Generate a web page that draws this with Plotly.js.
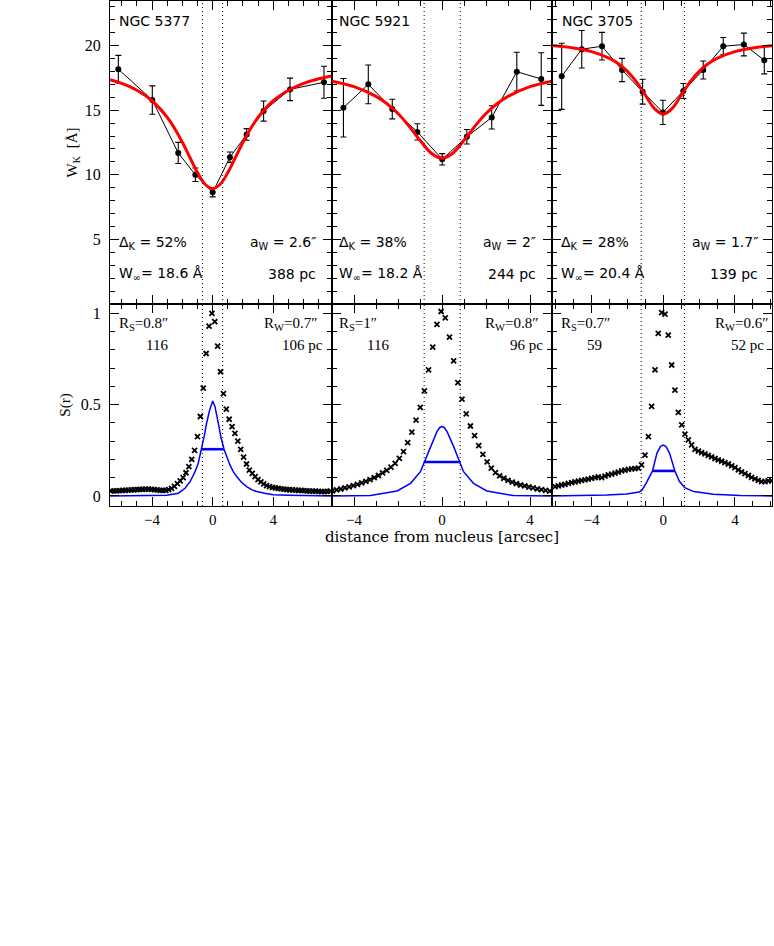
<!DOCTYPE html>
<html>
<head>
<meta charset="utf-8">
<script src="https://cdn.plot.ly/plotly-3.0.1.min.js"></script>
<style>html,body{margin:0;padding:0;background:#fff;}#chart{width:774px;height:946px;}</style>
</head>
<body>
<div id="chart"></div>
<script>
// ---------- data ----------
const galaxies = ['NGC 5377', 'NGC 5921', 'NGC 3705'];
const deltaK = ['52%', '38%', '28%'];
const wInf = ['18.6', '18.2', '20.4'];
const aW = ['2.6″', '2″', '1.7″'];
const aWpc = ['388 pc', '244 pc', '139 pc'];
const rS = ['0.8″', '1″', '0.7″'];
const rSpc = ['116', '116', '59'];
const rW = ['0.7″', '0.8″', '0.6″'];
const rWpc = ['106 pc', '96 pc', '52 pc'];

const xRanges = [[-6.77, 7.87], [-5, 5], [-6.21, 6.07]];
const xTickVals = [-4, 0, 4];
const wTickVals = [5, 10, 15, 20];
const sTickVals = [0, 0.5, 1];
const dotX = [[-0.68, 0.66], [-0.81, 0.83], [-1.23, 1.18]];

// W_K profiles (points with error bars)
const wX1 = [-6.22, -3.98, -2.27, -1.14, 0.0, 1.14, 2.24, 3.36, 5.1, 7.34];
const wY1 = [18.17, 15.78, 11.69, 10.0, 8.64, 11.36, 13.12, 14.93, 16.61, 17.16];
const wE1 = [1.07, 1.1, 0.82, 0.52, 0.35, 0.4, 0.45, 0.78, 0.87, 1.24];
const wX2 = [-4.48, -3.35, -2.26, -1.12, 0.01, 1.13, 2.26, 3.4, 4.51];
const wY2 = [15.19, 17.0, 15.09, 13.32, 11.2, 12.94, 14.44, 17.98, 17.41];
const wE2 = [2.26, 1.5, 0.76, 0.63, 0.44, 0.56, 0.9, 1.5, 2.04];
const wX3 = [-5.67, -4.55, -3.42, -2.30, -1.15, -0.02, 1.12, 2.23, 3.35, 4.5, 5.64];
const wY3 = [17.62, 19.72, 19.95, 18.11, 16.43, 14.83, 16.48, 18.11, 19.95, 20.08, 18.87];
const wE3 = [2.56, 1.45, 1.07, 0.9, 0.96, 0.94, 0.58, 0.7, 0.67, 0.88, 1.06];

// red fitted curves
const fitX1 = [-6.77, -6, -5, -4, -3, -2.5, -2, -1.5, -1, -0.5, 0, 0.5, 1, 1.5, 2, 2.5, 3, 4, 5, 6, 7, 7.87];
const fitY1 = [17.36, 17.07, 16.54, 15.73, 14.45, 13.57, 12.52, 11.34, 10.17, 9.27, 8.93, 9.27, 10.17, 11.34, 12.52, 13.57, 14.45, 15.73, 16.54, 17.07, 17.43, 17.65];
const fitX2 = [-5, -4, -3, -2.5, -2, -1.5, -1, -0.5, 0, 0.5, 1, 1.5, 2, 2.5, 3, 4, 5];
const fitY2 = [17.25, 16.82, 16.07, 15.50, 14.74, 13.77, 12.67, 11.69, 11.28, 11.69, 12.67, 13.77, 14.74, 15.50, 16.07, 16.82, 17.25];
const fitX3 = [-6.21, -5, -4, -3, -2.5, -2, -1.5, -1, -0.5, 0, 0.5, 1, 1.5, 2, 2.5, 3, 4, 5, 6.07];
const fitY3 = [20.0, 19.81, 19.53, 19.01, 18.59, 18.0, 17.19, 16.16, 15.14, 14.69, 15.14, 16.16, 17.19, 18.0, 18.59, 19.01, 19.53, 19.81, 19.99];

// S(r) light profiles (crosses)
const sX1 = [-6.70,-6.51,-6.32,-6.13,-5.94,-5.75,-5.56,-5.37,-5.18,-4.99,-4.80,-4.61,-4.42,-4.23,-4.04,-3.85,-3.66,-3.47,-3.28,-3.09,-2.90,-2.71,-2.52,-2.33,-2.14,-1.95,-1.76,-1.57,-1.38,-1.19,-1.00,-0.81,-0.62,-0.43,-0.24,-0.05,
  0.14,0.33,0.52,0.71,0.90,1.09,1.28,1.47,1.66,1.85,2.04,2.23,2.42,2.61,2.80,2.99,3.18,3.37,3.56,3.75,3.94,4.13,4.32,4.51,4.70,4.89,5.08,5.27,5.46,5.65,5.84,6.03,6.22,6.41,6.60,6.79,6.98,7.17,7.36,7.55,7.74];
const sY1 = [.027,.028,.028,.029,.030,.031,.032,.033,.034,.035,.036,.036,.037,.037,.036,.035,.033,.031,.030,.031,.035,.042,.053,.068,.083,.10,.127,.16,.20,.25,.325,.435,.59,.78,.93,1.0,
  .955,.82,.68,.56,.475,.42,.38,.343,.30,.255,.213,.175,.142,.124,.106,.09,.077,.066,.057,.051,.047,.044,.041,.039,.037,.035,.034,.033,.032,.031,.030,.029,.028,.027,.027,.026,.025,.024,.024,.025,.026];
const sX2 = [-4.98,-4.79,-4.60,-4.41,-4.22,-4.03,-3.84,-3.65,-3.46,-3.27,-3.08,-2.89,-2.70,-2.51,-2.32,-2.13,-1.94,-1.75,-1.56,-1.37,-1.18,-0.99,-0.80,-0.61,-0.42,-0.23,-0.04,
  0.15,0.34,0.53,0.72,0.91,1.10,1.29,1.48,1.67,1.86,2.05,2.24,2.43,2.62,2.81,3.00,3.19,3.38,3.57,3.76,3.95,4.14,4.33,4.52,4.71,4.90];
const sY2 = [.028,.033,.038,.044,.050,.057,.064,.072,.080,.090,.100,.112,.126,.140,.158,.178,.206,.243,.292,.350,.415,.485,.575,.690,.815,.940,1.01,
  .975,.87,.74,.62,.53,.45,.383,.33,.276,.228,.186,.152,.128,.11,.097,.085,.076,.068,.060,.055,.049,.044,.039,.035,.031,.027];
const sX3 = [-6.04,-5.86,-5.67,-5.49,-5.30,-5.11,-4.93,-4.74,-4.56,-4.37,-4.19,-4.00,-3.81,-3.63,-3.44,-3.25,-3.07,-2.88,-2.69,-2.51,-2.32,-2.14,-1.95,-1.76,-1.58,-1.39,-1.21,-1.02,-0.83,-0.65,-0.46,-0.28,-0.09,
  0.10,0.28,0.47,0.65,0.84,1.03,1.21,1.40,1.58,1.77,1.96,2.14,2.33,2.51,2.70,2.89,3.07,3.26,3.44,3.63,3.82,4.00,4.19,4.37,4.56,4.75,4.93,5.12,5.30,5.49,5.68,5.86,6.05];
const sY3 = [.051,.055,.060,.064,.069,.073,.077,.081,.085,.088,.092,.096,.100,.104,.100,.108,.115,.120,.125,.130,.137,.142,.145,.148,.150,.152,.170,.224,.325,.490,.690,.890,1.004,
  .996,.88,.717,.58,.458,.389,.339,.307,.28,.255,.245,.237,.23,.222,.214,.205,.197,.19,.183,.175,.165,.155,.143,.132,.122,.112,.102,.093,.085,.079,.078,.082,.083];

// S(r) blue profiles
const bX1 = [-6.77, -5, -4, -3.03, -2.26, -1.82, -1.49, -1.16, -0.95, -0.73, -0.55, -0.4, -0.2, 0, 0.15, 0.37, 0.55, 0.75, 0.95, 1.14, 1.35, 1.58, 1.9, 2.24, 2.6, 2.9, 3.5, 4, 5, 6, 7.87];
const bY1 = [0.0, 0.001, 0.002, 0.004, 0.015, 0.042, 0.078, 0.133, 0.179, 0.256, 0.33, 0.398, 0.47, 0.52, 0.49, 0.40, 0.32, 0.256, 0.21, 0.17, 0.135, 0.106, 0.075, 0.051, 0.033, 0.024, 0.013, 0.007, 0.004, 0.002, 0.0];
const bX2 = [-5, -3.25, -2.04, -1.43, -0.98, -0.8, -0.53, -0.23, -0.1, 0, 0.1, 0.23, 0.53, 0.8, 0.98, 1.43, 2.04, 3.25, 5];
const bY2 = [0.0, 0.002, 0.027, 0.069, 0.133, 0.186, 0.27, 0.352, 0.375, 0.38, 0.375, 0.352, 0.27, 0.186, 0.133, 0.069, 0.027, 0.002, 0.0];
const bX3 = [-6.21, -3.16, -2.05, -1.34, -1.2, -0.95, -0.6, -0.35, -0.15, 0, 0.15, 0.35, 0.65, 0.9, 1.2, 1.7, 2.8, 4.3, 6.07];
const bY3 = [0.0, 0.005, 0.011, 0.022, 0.03, 0.07, 0.137, 0.235, 0.272, 0.279, 0.272, 0.235, 0.137, 0.08, 0.045, 0.024, 0.009, 0.003, 0.0];

// half-maximum bars
const barL = [-0.73, -0.8, -0.59];
const barR = [0.75, 0.8, 0.65];
const barY = [0.256, 0.186, 0.137];

const wX = [wX1, wX2, wX3], wY = [wY1, wY2, wY3], wE = [wE1, wE2, wE3];
const fitX = [fitX1, fitX2, fitX3], fitY = [fitY1, fitY2, fitY3];
const sX = [sX1, sX2, sX3], sY = [sY1, sY2, sY3];
const bX = [bX1, bX2, bX3], bY = [bY1, bY2, bY3];

// ---------- layout helpers ----------
const L = 110, PW = 662, TOP = 1, BOT = 506, PH = BOT - TOP;
const px = v => (v - L) / PW;
const py = v => (BOT - v) / PH;
const xDom = [[0, px(332)], [px(332), px(552)], [px(552), 1]];
const splitY = py(304);

const traces = [];
for (let i = 0; i < 3; i++) {
  const xt = 'x' + (i === 0 ? '' : i + 1), yt = 'y' + (i === 0 ? '' : i + 1);
  const xb = 'x' + (i + 4), yb = 'y' + (i + 4);
  traces.push({x: wX[i], y: wY[i], xaxis: xt, yaxis: yt, mode: 'lines+markers', type: 'scatter',
    line: {color: 'black', width: 1}, marker: {color: 'black', size: 6, symbol: 'circle'},
    error_y: {type: 'data', array: wE[i], visible: true, color: 'black', thickness: 1.1, width: 3}, hoverinfo: 'skip'});
  traces.push({x: fitX[i], y: fitY[i], xaxis: xt, yaxis: yt, mode: 'lines', type: 'scatter',
    line: {color: '#ff0000', width: 3, shape: 'spline', smoothing: 1}, hoverinfo: 'skip'});
  traces.push({x: sX[i], y: sY[i], xaxis: xb, yaxis: yb, mode: 'markers', type: 'scatter',
    marker: {symbol: 'x-thin', size: 5, color: 'black', line: {color: 'black', width: 1.8}}, hoverinfo: 'skip'});
  traces.push({x: bX[i], y: bY[i], xaxis: xb, yaxis: yb, mode: 'lines', type: 'scatter',
    line: {color: '#0000ff', width: 1.5}, hoverinfo: 'skip'});
  traces.push({x: [barL[i], barR[i]], y: [barY[i], barY[i]], xaxis: xb, yaxis: yb, mode: 'lines', type: 'scatter',
    line: {color: '#0000ff', width: 2.6}, hoverinfo: 'skip'});
}

const axisBase = {
  showline: true, linecolor: 'black', linewidth: 1, mirror: 'ticks',
  ticks: 'inside', ticklen: 9, tickwidth: 1, tickcolor: 'black',
  showgrid: false, zeroline: false, fixedrange: true,
  tickfont: {family: 'Liberation Serif', size: 15, color: 'black'}
};
const layout = {
  width: 774, height: 946,
  margin: {l: L, r: 774 - L - PW, t: TOP, b: 946 - BOT},
  paper_bgcolor: 'white', plot_bgcolor: 'white', showlegend: false,
  font: {family: 'Liberation Serif', color: 'black'},
  shapes: [], annotations: []
};
for (let i = 0; i < 3; i++) {
  const nt = i === 0 ? '' : String(i + 1), nb = String(i + 4);
  layout['xaxis' + nt] = Object.assign({}, axisBase, {domain: xDom[i], anchor: 'y' + nt, range: xRanges[i],
    tickmode: 'array', tickvals: xTickVals, showticklabels: false,
    minor: {ticks: 'inside', ticklen: 5, dtick: 1, tick0: 0, tickcolor: 'black'}});
  layout['xaxis' + nb] = Object.assign({}, axisBase, {domain: xDom[i], anchor: 'y' + nb, range: xRanges[i],
    tickmode: 'array', tickvals: xTickVals, showticklabels: true,
    minor: {ticks: 'inside', ticklen: 5, dtick: 1, tick0: 0, tickcolor: 'black'}});
  layout['yaxis' + nt] = Object.assign({}, axisBase, {domain: [splitY, 1], anchor: 'x' + nt, range: [0, 23.45],
    tickmode: 'array', tickvals: wTickVals, showticklabels: i === 0, ticklabelstandoff: 5,
    tickfont: {family: 'Liberation Serif', size: 16, color: 'black'},
    minor: {ticks: 'inside', ticklen: 5, dtick: 1, tick0: 0, tickcolor: 'black'}});
  layout['yaxis' + nb] = Object.assign({}, axisBase, {domain: [0, splitY], anchor: 'x' + nb, range: [-0.055, 1.051],
    tickmode: 'array', tickvals: sTickVals, showticklabels: i === 0, ticklabelstandoff: 5,
    tickfont: {family: 'Liberation Serif', size: 16, color: 'black'},
    minor: {ticks: 'inside', ticklen: 5, dtick: 0.1, tick0: 0, tickcolor: 'black'}});
  // dotted vertical lines
  for (const d of dotX[i]) {
    for (const [xr, yr] of [['x' + nt, 'y' + nt], ['x' + nb, 'y' + nb]]) {
      layout.shapes.push({type: 'line', xref: xr, yref: yr + ' domain', x0: d, x1: d, y0: 0, y1: 1,
        line: {color: 'black', width: 1, dash: '1px,3px'}});
    }
  }
}
layout.yaxis.title = {text: 'W<sub>K</sub>  [Å]', font: {family: 'Liberation Serif', size: 15}, standoff: 3};
layout.yaxis4.title = {text: 'S(r)', font: {family: 'Liberation Serif', size: 15}, standoff: 6};
layout.xaxis5.title = {text: 'distance from nucleus [arcsec]', font: {family: 'DejaVu Serif', size: 15}, standoff: 4};

// annotations
const sans = {family: 'DejaVu Sans', size: 14, color: 'black'};
const serif = {family: 'Liberation Serif', size: 15, color: 'black'};
const leftX = [117, 337, 559], rightX = [318, 538, 760];
const ann = (text, x, y, xa, font) => layout.annotations.push({text, x: px(x), y: py(y), xref: 'paper', yref: 'paper',
  xanchor: xa, yanchor: 'middle', showarrow: false, font});
for (let i = 0; i < 3; i++) {
  ann(galaxies[i], leftX[i] + (i === 2 ? 1 : 0), 21, 'left', sans);
  ann('Δ<sub>K</sub> = ' + deltaK[i], leftX[i], 243, 'left', sans);
  ann('a<sub>W</sub> = ' + aW[i], rightX[i], 243, 'right', sans);
  ann('W<sub>∞</sub>= ' + wInf[i] + ' Å', leftX[i], 274, 'left', sans);
  ann(aWpc[i], rightX[i], 274, 'right', sans);
}
const bRS = [117, 337, 559], bRSpc = [157, 378, 594], bRW = [319, 540, 770], bRWpc = [325, 545, 766];
for (let i = 0; i < 3; i++) {
  ann('R<sub>S</sub>=' + rS[i], bRS[i], 324, 'left', serif);
  ann(rSpc[i], bRSpc[i], 345, 'center', serif);
  ann('R<sub>W</sub>=' + rW[i], bRW[i], 324, 'right', serif);
  ann(rWpc[i], bRWpc[i], 345, 'right', serif);
}

Plotly.newPlot('chart', traces, layout, {staticPlot: true, displayModeBar: false});
</script>
</body>
</html>
